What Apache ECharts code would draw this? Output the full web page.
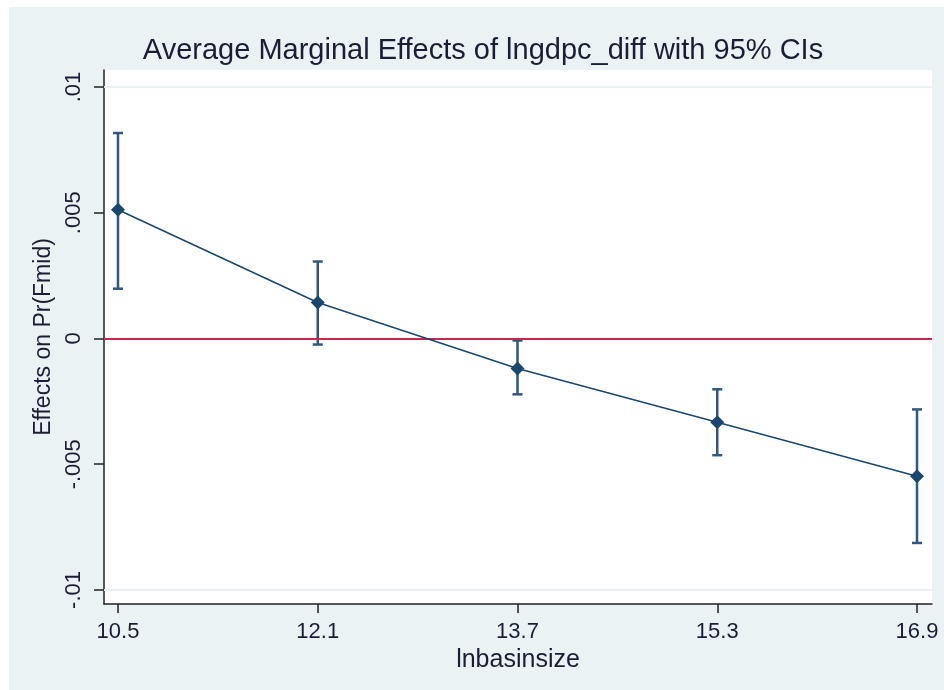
<!DOCTYPE html>
<html>
<head>
<meta charset="utf-8">
<script src="https://cdn.jsdelivr.net/npm/echarts@6/dist/echarts.min.js"></script>
<style>
html,body{margin:0;padding:0;background:#fff;}
#chart{width:944px;height:690px;}
</style>
</head>
<body>
<div id="chart"></div>
<script>
const xValues = [10.5, 12.1, 13.7, 15.3, 16.9];
const effects = [0.00512, 0.00143, -0.00119, -0.00333, -0.00548];
const ciLower = [0.00198, -0.00024, -0.00222, -0.00464, -0.00813];
const ciUpper = [0.00817, 0.00306, -0.00008, -0.00202, -0.00282];
const yTicks = [-0.01, -0.005, 0, 0.005, 0.01];
const yTickLabels = ['-.01', '-.005', '0', '.005', '.01'];
const xTickLabels = ['10.5', '12.1', '13.7', '15.3', '16.9'];

const FONT = 'Liberation Sans, Arial, sans-serif';
const NAVY = '#1a476f';
const BAR = '#2d5882';

const chart = echarts.init(document.getElementById('chart'), null, {renderer: 'canvas'});

const lineData = xValues.map((x, i) => [x, effects[i]]);
const ciData = xValues.map((x, i) => [x, ciLower[i], ciUpper[i]]);

const gridLines = yTicks.filter(v => v !== 0).map(v => ({yAxis: v}));

const option = {
  backgroundColor: '#fff',
  animation: false,
  graphic: [{
    type: 'rect', z: -100, silent: true,
    shape: {x: 9, y: 7, width: 935, height: 683},
    style: {fill: '#eaf2f3'}
  }],
  title: {
    text: 'Average Marginal Effects of lngdpc_diff with 95% CIs',
    left: 478, top: 31, textAlign: 'center',
    textStyle: {fontFamily: FONT, fontSize: 29, fontWeight: 'normal', color: '#1c1c34'}
  },
  grid: {
    left: 104, right: 12, top: 70, bottom: 86,
    show: true, backgroundColor: '#fff', borderWidth: 0
  },
  xAxis: {
    type: 'value', min: 10.388, max: 17.02,
    name: 'lnbasinsize', nameLocation: 'middle', nameGap: 36,
    nameTextStyle: {fontFamily: FONT, fontSize: 25, color: '#1c1c34'},
    axisLine: {show: true, onZero: false, lineStyle: {color: '#222', width: 1.5}},
    axisTick: {show: true, length: 9, customValues: xValues, lineStyle: {color: '#222', width: 1.5}},
    axisLabel: {
      customValues: xValues, margin: 17,
      fontFamily: FONT, fontSize: 22, color: '#1c1c34',
      formatter: v => xTickLabels[xValues.indexOf(v)] ?? ''
    },
    splitLine: {show: false}
  },
  yAxis: {
    type: 'value', min: -0.010557, max: 0.010676,
    name: 'Effects on Pr(Fmid)', nameLocation: 'middle', nameGap: 46, nameRotate: 90,
    nameTextStyle: {fontFamily: FONT, fontSize: 23, color: '#1c1c34'},
    axisLine: {show: true, onZero: false, lineStyle: {color: '#222', width: 1.5}},
    axisTick: {show: true, length: 10, customValues: yTicks, lineStyle: {color: '#222', width: 1.5}},
    axisLabel: {
      customValues: yTicks, rotate: 90, margin: 19,
      fontFamily: FONT, fontSize: 22, color: '#1c1c34',
      formatter: v => {
        const i = yTicks.findIndex(t => Math.abs(t - v) < 1e-9);
        return i >= 0 ? yTickLabels[i] : '';
      }
    },
    splitLine: {show: false}
  },
  series: [
    {
      type: 'line', name: 'grid', data: [], silent: true,
      markLine: {
        silent: true, symbol: 'none', label: {show: false},
        lineStyle: {color: '#eaf1f3', width: 1.5, type: 'solid'},
        data: gridLines
      }
    },
    {
      type: 'line', name: 'zero', data: [], silent: true, z: 3,
      markLine: {
        silent: true, symbol: 'none', label: {show: false},
        lineStyle: {color: '#c8264c', width: 2, type: 'solid'},
        data: [{yAxis: 0}]
      }
    },
    {
      type: 'custom', name: 'CI', z: 4,
      data: ciData,
      renderItem: (params, api) => {
        const x = api.value(0);
        const lo = api.coord([x, api.value(1)]);
        const hi = api.coord([x, api.value(2)]);
        const w = 5;
        const style = {stroke: BAR, lineWidth: 2.5};
        return {
          type: 'group',
          children: [
            {type: 'line', shape: {x1: lo[0], y1: lo[1], x2: hi[0], y2: hi[1]}, style},
            {type: 'line', shape: {x1: lo[0] - w, y1: lo[1], x2: lo[0] + w, y2: lo[1]}, style},
            {type: 'line', shape: {x1: hi[0] - w, y1: hi[1], x2: hi[0] + w, y2: hi[1]}, style}
          ]
        };
      }
    },
    {
      type: 'line', name: 'Effect', z: 5,
      data: lineData,
      symbol: 'diamond', symbolSize: 14, showAllSymbol: true,
      lineStyle: {color: NAVY, width: 1.5},
      itemStyle: {color: NAVY}
    }
  ]
};
chart.setOption(option);
</script>
</body>
</html>
